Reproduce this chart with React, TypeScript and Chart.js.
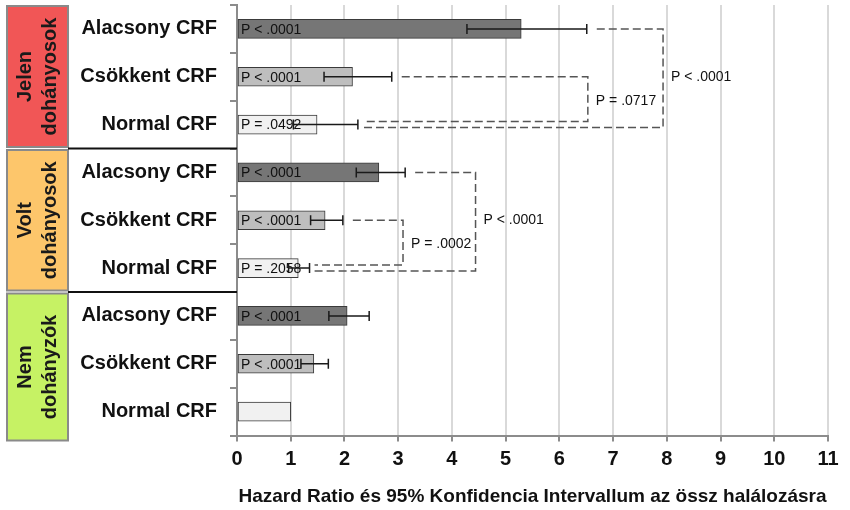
import React, { useEffect, useRef } from "react";
import { Chart, registerables } from "chart.js";

Chart.register(...registerables);

const FONT = "'Liberation Sans', Arial, sans-serif";

const groupLines = [
  ["Jelen", "dohányosok"],
  ["Volt", "dohányosok"],
  ["Nem", "dohányzók"],
];
const groupColors = ["#f15656", "#fdc66b", "#c6f264"];
const crfLevels = ["Alacsony CRF", "Csökkent CRF", "Normal CRF"];
const categories = [...crfLevels, ...crfLevels, ...crfLevels];
const hazardRatios = [5.29, 2.15, 1.49, 2.64, 1.64, 1.14, 2.05, 1.43, 1.0];
const ciLow = [4.28, 1.62, 1.05, 2.22, 1.37, 0.96, 1.71, 1.19, null];
const ciHigh = [6.51, 2.88, 2.25, 3.13, 1.97, 1.35, 2.46, 1.7, null];
const pValues = [
  "P < .0001", "P < .0001", "P = .0492",
  "P < .0001", "P < .0001", "P = .2058",
  "P < .0001", "P < .0001", "",
];
const levelColors = ["#767676", "#bebebe", "#f1f1f1"];
const barColors = [...levelColors, ...levelColors, ...levelColors];

const bracketFrom = [1, 0, 4, 3];
const bracketTo = [2, 2, 5, 5];
const bracketX = [6.53, 7.93, 3.09, 4.44];
const bracketLabels = ["P = .0717", "P < .0001", "P = .0002", "P < .0001"];

const xMin = 0;
const xMax = 11;
const xTitle = "Hazard Ratio és 95% Konfidencia Intervallum az össz halálozásra";

const overlayPlugin = {
  id: "overlay",
  afterDatasetsDraw(chart: any) {
    const { ctx, scales } = chart;
    const xs = scales.x;
    const meta = chart.getDatasetMeta(0);
    ctx.save();
    // P labels in bars
    ctx.font = `14px ${FONT}`;
    ctx.fillStyle = "#111";
    ctx.textAlign = "left";
    ctx.textBaseline = "middle";
    pValues.forEach((t, i) => {
      if (!t) return;
      const y = meta.data[i].y;
      ctx.fillText(t, xs.getPixelForValue(0) + 4, y + 1);
    });
    // error bars
    ctx.strokeStyle = "#1a1a1a";
    ctx.lineWidth = 1.5;
    ctx.setLineDash([]);
    ciLow.forEach((lo, i) => {
      const hi = ciHigh[i];
      if (lo == null || hi == null) return;
      const y = meta.data[i].y;
      const x1 = xs.getPixelForValue(lo);
      const x2 = xs.getPixelForValue(hi);
      ctx.beginPath();
      ctx.moveTo(x1, y);
      ctx.lineTo(x2, y);
      ctx.moveTo(x1, y - 5);
      ctx.lineTo(x1, y + 5);
      ctx.moveTo(x2, y - 5);
      ctx.lineTo(x2, y + 5);
      ctx.stroke();
    });
    // brackets
    ctx.strokeStyle = "#555";
    ctx.lineWidth = 1.5;
    ctx.setLineDash([8, 4]);
    bracketFrom.forEach((f, k) => {
      const t = bracketTo[k];
      const inner = t - f === 1;
      const yTop = meta.data[f].y;
      const yBot = meta.data[t].y + (inner ? -3 : 3);
      const xv = xs.getPixelForValue(bracketX[k]);
      const xStartTop = xs.getPixelForValue(ciHigh[f] as number) + 10;
      const xStartBot = xs.getPixelForValue(ciHigh[t] as number) + 5;
      ctx.beginPath();
      ctx.moveTo(xStartTop, yTop);
      ctx.lineTo(xv, yTop);
      ctx.lineTo(xv, yBot);
      ctx.lineTo(xStartBot, yBot);
      ctx.stroke();
    });
    ctx.setLineDash([]);
    ctx.font = `14px ${FONT}`;
    ctx.fillStyle = "#111";
    ctx.textAlign = "left";
    ctx.textBaseline = "middle";
    bracketFrom.forEach((f, k) => {
      const t = bracketTo[k];
      const y = (meta.data[f].y + meta.data[t].y) / 2;
      const xv = xs.getPixelForValue(bracketX[k]);
      ctx.fillText(bracketLabels[k], xv + 8, y);
    });
    ctx.restore();
  },
  afterDraw(chart: any) {
    const { ctx, chartArea } = chart;
    const n = categories.length;
    const step = (chartArea.bottom - chartArea.top) / n;
    const boundary = (i: number) => chartArea.top + i * step;
    const panelLeft = 7;
    const panelRight = 68;
    ctx.save();
    groupLines.forEach((lines, g) => {
      const top = g === 0 ? chartArea.top + 1 : boundary(g * 3) + 1.5;
      const bottom = g === groupLines.length - 1 ? chartArea.bottom + 5 : boundary(g * 3 + 3) - 1.5;
      ctx.fillStyle = groupColors[g];
      ctx.fillRect(panelLeft, top, panelRight - panelLeft, bottom - top);
      ctx.strokeStyle = "#8a8a8a";
      ctx.lineWidth = 2;
      ctx.strokeRect(panelLeft, top, panelRight - panelLeft, bottom - top);
      ctx.save();
      ctx.translate((panelLeft + panelRight) / 2, (top + bottom) / 2);
      ctx.rotate(-Math.PI / 2);
      ctx.font = `bold 20px ${FONT}`;
      ctx.fillStyle = "#1a1a1a";
      ctx.textAlign = "center";
      ctx.textBaseline = "middle";
      const lh = 25;
      lines.forEach((ln, i) => {
        ctx.fillText(ln, 0, (i - (lines.length - 1) / 2) * lh);
      });
      ctx.restore();
    });
    // group separators
    ctx.strokeStyle = "#111";
    ctx.lineWidth = 2;
    for (let g = 1; g < groupLines.length; g++) {
      const y = boundary(g * 3);
      ctx.beginPath();
      ctx.moveTo(panelRight, y);
      ctx.lineTo(chartArea.left, y);
      ctx.stroke();
    }
    ctx.restore();
  },
};

export default function App() {
  const ref = useRef<HTMLCanvasElement | null>(null);
  useEffect(() => {
    if (!ref.current) return;
    const chart = new Chart(ref.current, {
      type: "bar",
      data: {
        labels: categories,
        datasets: [
          {
            data: hazardRatios,
            backgroundColor: barColors,
            borderColor: "#3a3a3a",
            borderWidth: 1,
            borderSkipped: false,
            barThickness: 19,
          },
        ],
      },
      options: {
        indexAxis: "y",
        responsive: false,
        animation: false,
        layout: { padding: { top: 5, right: 22, bottom: 0, left: 0 } },
        plugins: { legend: { display: false }, tooltip: { enabled: false } },
        scales: {
          x: {
            type: "linear",
            min: xMin,
            max: xMax,
            position: "bottom",
            ticks: {
              stepSize: 1,
              color: "#111",
              padding: 6,
              font: { family: FONT, size: 20, weight: "bold" },
            },
            grid: {
              color: "#d9d9d9",
              lineWidth: 2,
              tickLength: 6,
              tickColor: "#8c8c8c",
            },
            border: { display: true, color: "#8c8c8c", width: 2 },
            title: {
              display: true,
              text: xTitle,
              color: "#111",
              font: { family: FONT, size: 19, weight: "bold" },
              padding: { top: 0, bottom: 2 },
            },
            afterFit: (s: any) => {
              s.height = 74.5;
              s.paddingLeft = 0;
              s.paddingRight = 0;
            },
          },
          y: {
            type: "category",
            offset: true,
            grid: {
              offset: true,
              drawOnChartArea: false,
              tickLength: 7,
              color: "#8c8c8c",
              lineWidth: 2,
            },
            border: { display: true, color: "#8c8c8c", width: 2 },
            ticks: {
              autoSkip: false,
              color: "#111",
              padding: 13,
              font: { family: FONT, size: 20, weight: "bold" },
            },
            afterFit: (s: any) => {
              s.width = 237;
              s.paddingTop = 0;
              s.paddingBottom = 0;
            },
          },
        },
      },
      plugins: [overlayPlugin],
    } as any);
    return () => chart.destroy();
  }, []);
  return (
    <div style={{ position: "absolute", left: 0, top: 0, width: 850, height: 510, background: "#fff" }}>
      <canvas ref={ref} width={850} height={510} />
    </div>
  );
}
